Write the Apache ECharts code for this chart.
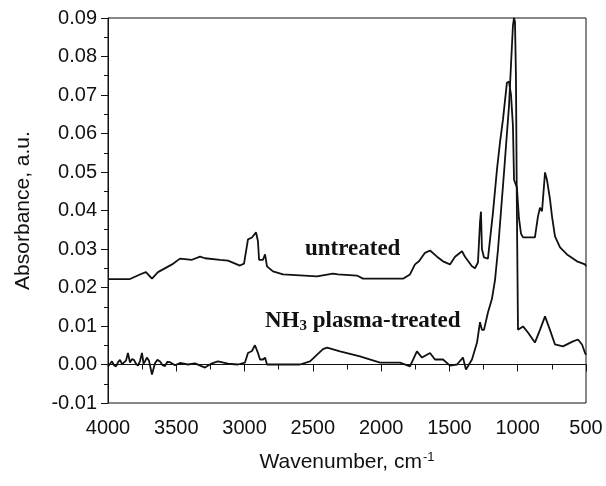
<!DOCTYPE html>
<html>
<head>
<meta charset="utf-8">
<script src="https://cdn.jsdelivr.net/npm/echarts@6/dist/echarts.min.js"></script>
<style>
  html, body { margin: 0; padding: 0; background: #fff; }
  #chart { width: 606px; height: 486px; }
</style>
</head>
<body>
<div id="chart"></div>
<script>
// x ticks (wavenumber, cm-1) and y ticks
var xTicks = [4000, 3500, 3000, 2500, 2000, 1500, 1000, 500];
var yTicks = [-0.01, 0.00, 0.01, 0.02, 0.03, 0.04, 0.05, 0.06, 0.07, 0.08, 0.09];

// untreated spectrum
var wnUntreated = [4000, 3839, 3758, 3722, 3678, 3634, 3531, 3473, 3385, 3326, 3290, 3180, 3121, 3034, 3004,
  2975, 2946, 2916, 2902, 2894, 2865, 2850, 2836, 2792, 2719, 2470, 2353, 2316, 2177, 2133, 1840, 1789,
  1752, 1723, 1679, 1642, 1591, 1547, 1496, 1459, 1408, 1386, 1335, 1313, 1291, 1276, 1269, 1262, 1247,
  1218, 1181, 1152, 1130, 1108, 1079, 1064, 1049, 1035, 1027, 1006, 991, 976, 961, 874, 852, 837, 822,
  800, 786, 764, 749, 727, 690, 639, 566, 507, 500];
var absUntreated = [0.0222, 0.0222, 0.0235, 0.0240, 0.0223, 0.0240, 0.0260, 0.0275, 0.0272, 0.0280, 0.0276, 0.0272, 0.0270, 0.0257, 0.0262,
  0.0325, 0.0330, 0.0343, 0.0320, 0.0272, 0.0272, 0.0286, 0.0255, 0.0242, 0.0234, 0.0229, 0.0236, 0.0234, 0.0231, 0.0223, 0.0223, 0.0234,
  0.0260, 0.0268, 0.0290, 0.0296, 0.0280, 0.0268, 0.0260, 0.0280, 0.0294, 0.0280, 0.0255, 0.0250, 0.0265, 0.0370, 0.0397, 0.0300, 0.0278,
  0.0275, 0.0395, 0.0506, 0.0576, 0.0636, 0.0732, 0.0735, 0.0700, 0.0620, 0.0480, 0.0460, 0.0380, 0.0340, 0.0330, 0.0330, 0.0384, 0.0407, 0.0398,
  0.0499, 0.0480, 0.0430, 0.0385, 0.0333, 0.0304, 0.0286, 0.0268, 0.0260, 0.0255];

// NH3 plasma-treated spectrum
var wnTreated = [4000, 3985, 3971, 3956, 3941, 3926, 3912, 3897, 3883, 3868, 3854, 3839, 3825, 3810, 3795, 3780, 3766,
  3751, 3740, 3729, 3715, 3700, 3678, 3656, 3638, 3619, 3600, 3583, 3565,
  3546, 3509, 3473, 3414, 3363, 3290, 3239, 3195, 3121, 3048, 2997, 2975, 2946, 2924, 2902, 2887, 2865, 2850,
  2836, 2594, 2521, 2426, 2396, 2301, 2155, 2008, 1862, 1789, 1738, 1701, 1642, 1606, 1547, 1496, 1445, 1401,
  1379, 1335, 1298, 1276, 1262, 1247, 1218, 1189, 1166, 1144, 1122, 1100, 1079, 1064, 1049, 1035, 1027, 1020,
  1013, 1006, 998, 961, 925, 874, 837, 800, 764, 727, 669, 595, 559, 529, 507, 500];
var absTreated = [-0.0005, 0.0002, 0.0008, -0.0002, -0.0005, 0.0006, 0.0012, 0.0001, 0.0003, 0.0010, 0.0030, 0.0005, 0.0014, 0.0012, 0.0002, -0.0003, 0.0009,
  0.0030, 0.0002, 0.0008, 0.0018, 0.0010, -0.0026, 0.0003, 0.0012, 0.0008, -0.0002, -0.0004, 0.0007,
  0.0006, -0.0002, 0.0004, 0.0000, 0.0003, -0.0008, 0.0003, 0.0008, 0.0002, 0.0000, 0.0005, 0.0030, 0.0035, 0.0050, 0.0030, 0.0013, 0.0013, 0.0018,
  0.0000, 0.0000, 0.0008, 0.0040, 0.0044, 0.0034, 0.0021, 0.0005, 0.0005, -0.0005, 0.0034, 0.0018, 0.0030, 0.0013, 0.0013, -0.0003, 0.0000, 0.0018,
  -0.0013, 0.0013, 0.0057, 0.0110, 0.0090, 0.0090, 0.0135, 0.0170, 0.0220, 0.0300, 0.0400, 0.0500, 0.0600, 0.0670, 0.0780, 0.0880, 0.0900, 0.0890,
  0.0750, 0.0400, 0.0090, 0.0099, 0.0083, 0.0057, 0.0090, 0.0125, 0.0090, 0.0052, 0.0047, 0.0060, 0.0065, 0.0052, 0.0030, 0.0025];

function pairs(xs, ys) {
  var out = [];
  for (var i = 0; i < xs.length; i++) out.push([xs[i], ys[i]]);
  return out;
}

var chart = echarts.init(document.getElementById('chart'));
var axisFont = { fontFamily: 'Liberation Sans', fontSize: 20, color: '#111' };

var option = {
  animation: false,
  grid: { left: 108, right: 20, top: 18, bottom: 83, show: true, borderColor: '#111', borderWidth: 1 },
  xAxis: {
    type: 'value', inverse: true,
    min: xTicks[xTicks.length - 1], max: xTicks[0], interval: 500,
    name: '{a|Wavenumber, cm}{s|-1}',
    nameLocation: 'middle', nameGap: 48,
    nameTextStyle: { rich: {
      a: { fontFamily: 'Liberation Sans', fontSize: 21, color: '#111' },
      s: { fontFamily: 'Liberation Sans', fontSize: 13, color: '#111', verticalAlign: 'top', padding: [0, 0, 10, 1] }
    } },
    axisLine: { lineStyle: { color: '#111', width: 1 } },
    axisTick: { inside: false, length: 7, lineStyle: { color: '#111' } },
    minorTick: { show: true, splitNumber: 2, length: 5, lineStyle: { color: '#111' } },
    axisLabel: Object.assign({ margin: 15, formatter: function (v) { return String(v); } }, axisFont),
    splitLine: { show: false }
  },
  yAxis: {
    type: 'value', min: yTicks[0], max: yTicks[yTicks.length - 1], interval: 0.01,
    name: 'Absorbance, a.u.',
    nameLocation: 'middle', nameGap: 74,
    nameTextStyle: { fontFamily: 'Liberation Sans', fontSize: 21, color: '#111' },
    axisLine: { lineStyle: { color: '#111', width: 1 } },
    axisTick: { inside: false, length: 7, lineStyle: { color: '#111' } },
    minorTick: { show: true, splitNumber: 2, length: 4, lineStyle: { color: '#111' } },
    axisLabel: Object.assign({ margin: 11, formatter: function (v) { return v.toFixed(2); } }, axisFont),
    splitLine: { show: false }
  },
  series: [
    {
      name: 'untreated', type: 'line', showSymbol: false,
      data: pairs(wnUntreated, absUntreated),
      lineStyle: { color: '#111', width: 1.8 }
    },
    {
      name: 'NH3 plasma-treated', type: 'line', showSymbol: false,
      data: pairs(wnTreated, absTreated),
      lineStyle: { color: '#111', width: 1.8 }
    }
  ],
  graphic: [
    {
      type: 'text', left: 305, top: 238,
      style: { text: 'untreated', font: 'bold 23px "Liberation Serif"', fill: '#111' }
    },
    {
      type: 'text', left: 265, top: 310,
      style: {
        text: '{a|NH}{s|3}{a| plasma-treated}',
        rich: {
          a: { font: 'bold 23px "Liberation Serif"', fill: '#111' },
          s: { font: 'bold 15px "Liberation Serif"', fill: '#111', verticalAlign: 'bottom', padding: [9, 0, 0, 0] }
        }
      }
    }
  ]
};
chart.setOption(option);
</script>
</body>
</html>
